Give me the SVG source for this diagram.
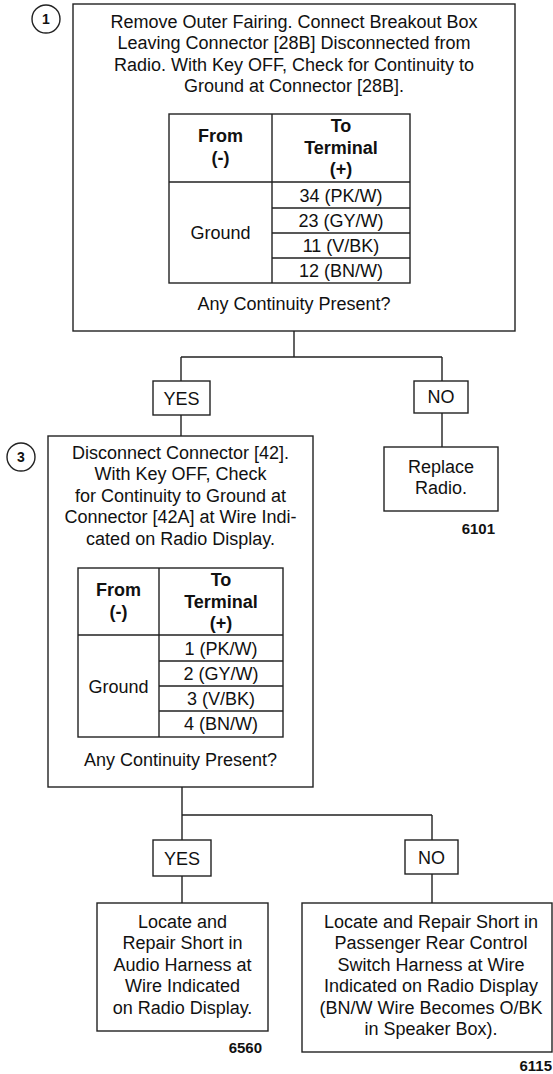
<svg xmlns="http://www.w3.org/2000/svg" width="553" height="1074" viewBox="0 0 553 1074">
<style>
.bx{fill:#fff;stroke:#222;stroke-width:1.4}
.ln{fill:none;stroke:#222;stroke-width:1.4}
text{font-family:"Liberation Sans",Arial,Helvetica,sans-serif;font-size:18px;fill:#111;text-anchor:middle}
.b{font-weight:bold}
.num{font-weight:bold;font-size:14px}
.code{font-weight:bold;font-size:15px;text-anchor:end}
</style>
<rect width="553" height="1074" fill="#fff"/>
<g id="connectors">
<path class="ln" d="M294 331V357M181 357H442M181 357V381M442 357V381"/>
<path class="ln" d="M181 415V436M442 413V447"/>
<path class="ln" d="M182 787V815M182 815H432M182 815V840M432 815V840"/>
<path class="ln" d="M182 876V903M432 874V903"/>
</g>
<g id="n1">
<circle class="bx" cx="46" cy="19" r="14"/>
<text class="num" x="46" y="24">1</text>
<rect class="bx" x="73" y="4" width="442" height="327"/>
<text x="294" y="27.5">Remove Outer Fairing. Connect Breakout Box</text>
<text x="294" y="49">Leaving Connector [28B] Disconnected from</text>
<text x="294" y="70.5">Radio. With Key OFF, Check for Continuity to</text>
<text x="294" y="92">Ground at Connector [28B].</text>
<g id="t1">
<rect class="ln" x="169" y="114" width="241" height="169"/>
<path class="ln" d="M272 114V283M169 182H410M272 208H410M272 233H410M272 258H410"/>
<text class="b" x="220.5" y="141.5">From</text>
<text class="b" x="220.5" y="163.5">(-)</text>
<text class="b" x="341" y="131.5">To</text>
<text class="b" x="341" y="153.5">Terminal</text>
<text class="b" x="341" y="175">(+)</text>
<text x="220.5" y="239">Ground</text>
<text x="341" y="201.5">34 (PK/W)</text>
<text x="341" y="227">23 (GY/W)</text>
<text x="341" y="252">11 (V/BK)</text>
<text x="341" y="277">12 (BN/W)</text>
</g>
<text x="294" y="309.5">Any Continuity Present?</text>
</g>
<g id="yes1">
<rect class="bx" x="153" y="381" width="57" height="34"/>
<text x="181.5" y="404.5">YES</text>
</g>
<g id="no1">
<rect class="bx" x="414" y="381" width="54" height="32"/>
<text x="441" y="403">NO</text>
</g>
<g id="n2">
<rect class="bx" x="384" y="447" width="114" height="64"/>
<text x="441" y="472.5">Replace</text>
<text x="441" y="493.5">Radio.</text>
<text class="code" x="495" y="533.5">6101</text>
</g>
<g id="n3">
<circle class="bx" cx="21" cy="457" r="14"/>
<text class="num" x="21" y="462">3</text>
<rect class="bx" x="48" y="436" width="265" height="351"/>
<text x="180.5" y="458.5">Disconnect Connector [42].</text>
<text x="180.5" y="480">With Key OFF, Check</text>
<text x="180.5" y="501.5">for Continuity to Ground at</text>
<text x="180.5" y="523">Connector [42A] at Wire Indi-</text>
<text x="180.5" y="544.5">cated on Radio Display.</text>
<g id="t2">
<rect class="ln" x="78" y="568" width="205" height="169"/>
<path class="ln" d="M159 568V737M78 635H283M159 661H283M159 686H283M159 711H283"/>
<text class="b" x="118.5" y="595.5">From</text>
<text class="b" x="118.5" y="617.5">(-)</text>
<text class="b" x="221" y="585.5">To</text>
<text class="b" x="221" y="607.5">Terminal</text>
<text class="b" x="221" y="629">(+)</text>
<text x="118.5" y="692.5">Ground</text>
<text x="221" y="654.5">1 (PK/W)</text>
<text x="221" y="680">2 (GY/W)</text>
<text x="221" y="705">3 (V/BK)</text>
<text x="221" y="730">4 (BN/W)</text>
</g>
<text x="180.5" y="765.5">Any Continuity Present?</text>
</g>
<g id="yes2">
<rect class="bx" x="153" y="840" width="58" height="36"/>
<text x="182" y="864.5">YES</text>
</g>
<g id="no2">
<rect class="bx" x="405" y="840" width="53" height="34"/>
<text x="431.5" y="863.5">NO</text>
</g>
<g id="n4">
<rect class="bx" x="97" y="903" width="171" height="128"/>
<text x="182.5" y="927.5">Locate and</text>
<text x="182.5" y="949">Repair Short in</text>
<text x="182.5" y="970.5">Audio Harness at</text>
<text x="182.5" y="992">Wire Indicated</text>
<text x="182.5" y="1013.5">on Radio Display.</text>
<text class="code" x="262" y="1053">6560</text>
</g>
<g id="n5">
<rect class="bx" x="302" y="903" width="250" height="149"/>
<text x="431" y="927.5">Locate and Repair Short in</text>
<text x="431" y="949">Passenger Rear Control</text>
<text x="431" y="970.5">Switch Harness at Wire</text>
<text x="431" y="992">Indicated on Radio Display</text>
<text x="431" y="1013.5">(BN/W Wire Becomes O/BK</text>
<text x="431" y="1035">in Speaker Box).</text>
<text class="code" x="552" y="1071">6115</text>
</g>
</svg>
